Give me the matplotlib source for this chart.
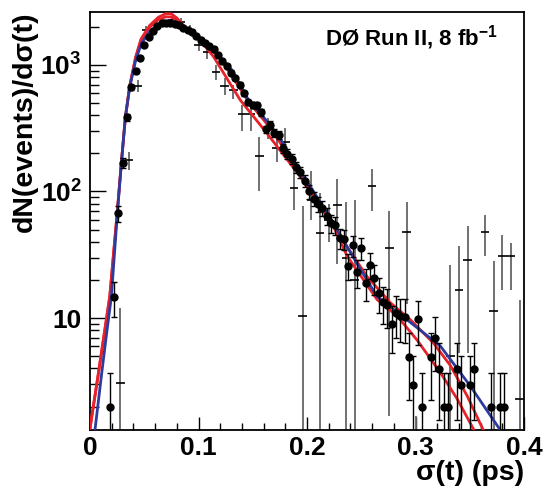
import numpy as np
import matplotlib
matplotlib.use('Agg')
import matplotlib.pyplot as plt
from matplotlib.ticker import LogLocator, MultipleLocator, FixedLocator, FixedFormatter, NullFormatter

plt.rcParams['font.family'] = ['Liberation Sans', 'DejaVu Sans']
plt.rcParams['font.weight'] = 'bold'
plt.rcParams['mathtext.fontset'] = 'custom'
plt.rcParams['mathtext.rm'] = 'Liberation Sans:bold'
plt.rcParams['mathtext.bf'] = 'Liberation Sans:bold'
plt.rcParams['mathtext.it'] = 'Liberation Sans:bold:italic'

# black dots: 100 bins of 0.004 ps
dot_x = np.arange(100) * 0.004 + 0.002
nan = np.nan
dot_y = np.array([
    nan, nan, nan, nan, 1.97, 14.8, 67.5, 168, 386, 667,
    897, 1142, 1438, 1672, 1853, 2044, 2125, 2145, 2160, 2105,
    2070, 1960, 1890, 1820, 1695, 1575, 1490, 1410, 1340, 1200,
    1075, 980, 870, 790, 700, 598, 505, 480, 478, 422,
    311, 336, 292, 278, 220, 198, 180, 155, 143, 122,
    100, 88, 80, 74, 64, 56, 54, 43, 42, 26,
    37.5, 23, 36, 19, 26.5, 20.7, 15.8, 13.3, 12.6, 8.9,
    10.9, 10.4, 10.2, 4.93, 2.96, 9.85, 1.97, nan, 4.93, 6.97,
    3.96, 1.97, 1.97, nan, 3.96, 2.96, nan, 2.96, 3.96, nan,
    nan, nan, 1.97, nan, 1.97, 1.97, nan, nan, nan, nan])
dot_err = 1.2 * np.sqrt(dot_y)

# crosses: bins of 0.008 ps
cross_x = [0.028, 0.036, 0.044, 0.052, 0.060, 0.068, 0.076, 0.084, 0.092, 0.100,
           0.108, 0.116, 0.124, 0.132, 0.140, 0.148, 0.156, 0.164, 0.172, 0.180,
           0.188, 0.196, 0.204, 0.212, 0.220, 0.228, 0.236, 0.244, 0.260, 0.276,
           0.292, 0.300, 0.332, 0.340, 0.348, 0.364, 0.372, 0.380, 0.388, 0.396]
cross_y = [3.08, 176, 682, 1888, 2050, 2200, 2250, 2200, 1890, 1438,
           1274, 886, 682, 635, 410, 410, 190, 320, 220, 244,
           107, 10.4, 86, 47, 60, 78.6, 30, 20, 110, 35.7,
           48, 0.5, 5.05, 16.6, 29, 47.9, 11.3, 31, 31, 2.3]
cross_lo = [3.08, 28, 66, 130, 120, 120, 120, 150, 180, 150,
            170, 130, 100, 100, 110, 110, 90, 60, 50, 54,
            35, 10.4, 26, 47, 20, 52, 30, 20, 40, 34,
            35, 0.5, 5.05, 11.3, 23.7, 17.2, 11.3, 14.4, 14.4, 2.3]
cross_hi = [9, 31, 79, 130, 120, 120, 120, 150, 170, 150,
            120, 120, 110, 60, 70, 90, 80, 60, 60, 76,
            43, 66, 58, 50, 20, 46, 53, 66, 40, 34,
            35, 1.2, 21, 20.4, 24, 17.6, 16.7, 14.6, 8.4, 11.7]

# fitted curves
blue_x = [0.0046, 0.0105, 0.0150, 0.0197, 0.0252, 0.0289, 0.0326, 0.0366, 0.0422,
          0.0474, 0.0550, 0.0625, 0.0675, 0.0730, 0.0780, 0.0830, 0.0920, 0.1000,
          0.1138, 0.1307, 0.1460, 0.1660, 0.1755, 0.1846, 0.2030, 0.2245, 0.2460,
          0.2646, 0.2922, 0.3230, 0.3506, 0.3780]
blue_y = [1.31, 3.5, 7.2, 14.8, 67, 168, 386, 667, 1095,
          1480, 1830, 2050, 2170, 2235, 2200, 2070, 1850, 1690,
          1313, 913, 529, 336, 260, 189, 110, 56, 27,
          14.8, 9.7, 6.0, 2.9, 1.31]

redA_x = [0.0000, 0.0074, 0.0182, 0.0250, 0.0289, 0.0326, 0.0366, 0.0420, 0.0470,
          0.0550, 0.0630, 0.0700, 0.0750, 0.0800, 0.0850, 0.0920, 0.1000, 0.1138,
          0.1384, 0.1630, 0.1938, 0.2245, 0.2369, 0.2646, 0.2831, 0.3015, 0.3230,
          0.3384, 0.3538]
redA_y = [1.35, 3.5, 14.8, 67, 168, 386, 680, 1150, 1600,
          2050, 2380, 2540, 2530, 2350, 2100, 1850, 1620, 1163,
          529, 289, 131, 53, 31, 14, 10.4, 6.7, 3.7,
          2.3, 1.31]

redB_x = [0.0000, 0.0074, 0.0182, 0.0250, 0.0289, 0.0326, 0.0366, 0.0420, 0.0470,
          0.0550, 0.0630, 0.0700, 0.0750, 0.0800, 0.0850, 0.0920, 0.1000, 0.1200,
          0.1460, 0.1660, 0.1850, 0.2030, 0.2307, 0.2553, 0.2769, 0.2953, 0.3169,
          0.3323, 0.3477, 0.3624]
redB_y = [1.35, 3.5, 14.8, 67, 168, 386, 680, 1130, 1560,
          1980, 2280, 2400, 2390, 2250, 2050, 1820, 1620, 1130,
          515, 318, 182, 104, 44, 21.3, 13.2, 9.7, 6.3,
          4.2, 2.42, 1.31]

fig = plt.figure(figsize=(5.46, 4.93), dpi=100)
ax = fig.add_axes([90 / 546, 63 / 493, 434 / 546, 418 / 493])

# crosses
ax.errorbar(cross_x, cross_y, yerr=[cross_lo, cross_hi], fmt='none',
            ecolor='0.4', elinewidth=1.3, capsize=0, zorder=2)
ax.errorbar(cross_x, cross_y, xerr=0.004, fmt='none',
            ecolor='black', elinewidth=1.2, capsize=0, zorder=2)

ax.plot(redA_x, redA_y, color='#e8222a', lw=2, zorder=3)
ax.plot(redB_x, redB_y, color='#e8222a', lw=2, zorder=3)
ax.plot(blue_x, blue_y, color='#2e3a9c', lw=2, zorder=3.5)

ax.errorbar(dot_x, dot_y, yerr=dot_err, fmt='o', color='black', ms=5,
            elinewidth=1, capsize=2, capthick=1, zorder=4)

ax.set_yscale('log')
ax.set_xlim(0, 0.4)
ax.set_ylim(1.306, 2618)

ax.xaxis.set_major_locator(FixedLocator([0, 0.1, 0.2, 0.3, 0.4]))
ax.xaxis.set_major_formatter(FixedFormatter(['0', '0.1', '0.2', '0.3', '0.4']))
ax.xaxis.set_minor_locator(MultipleLocator(0.02))

ax.yaxis.set_major_locator(FixedLocator([10, 100, 1000]))
ax.yaxis.set_major_formatter(FixedFormatter(['10', r'$10^{2}$', r'$10^{3}$']))
ax.yaxis.set_minor_locator(LogLocator(base=10, subs=np.arange(2, 10), numticks=20))
ax.yaxis.set_minor_formatter(NullFormatter())

ax.tick_params(axis='both', which='both', direction='in', top=False, right=False,
               labelsize=19, width=1)
ax.tick_params(axis='y', which='major', length=11.5, pad=6)
ax.tick_params(axis='y', which='minor', length=6.5)
ax.tick_params(axis='x', which='major', length=9.5, pad=4)
ax.tick_params(axis='x', which='minor', length=5)
for lab in ax.get_xticklabels() + ax.get_yticklabels():
    lab.set_fontweight('bold')
for sp in ax.spines.values():
    sp.set_linewidth(1.3)

ax.set_ylabel('dN(events)/dσ(t)', fontsize=20.5, fontweight='bold', loc='top', labelpad=2)
ax.set_xlabel('σ(t) (ps)', fontsize=20.5, fontweight='bold', loc='right', labelpad=0)

ax.text(0.541, 0.921, r'DØ Run II, 8 fb$^{-1}$', transform=ax.transAxes,
        fontsize=16, fontweight='bold', va='baseline', ha='left')

fig.savefig('out.png', dpi=100)
